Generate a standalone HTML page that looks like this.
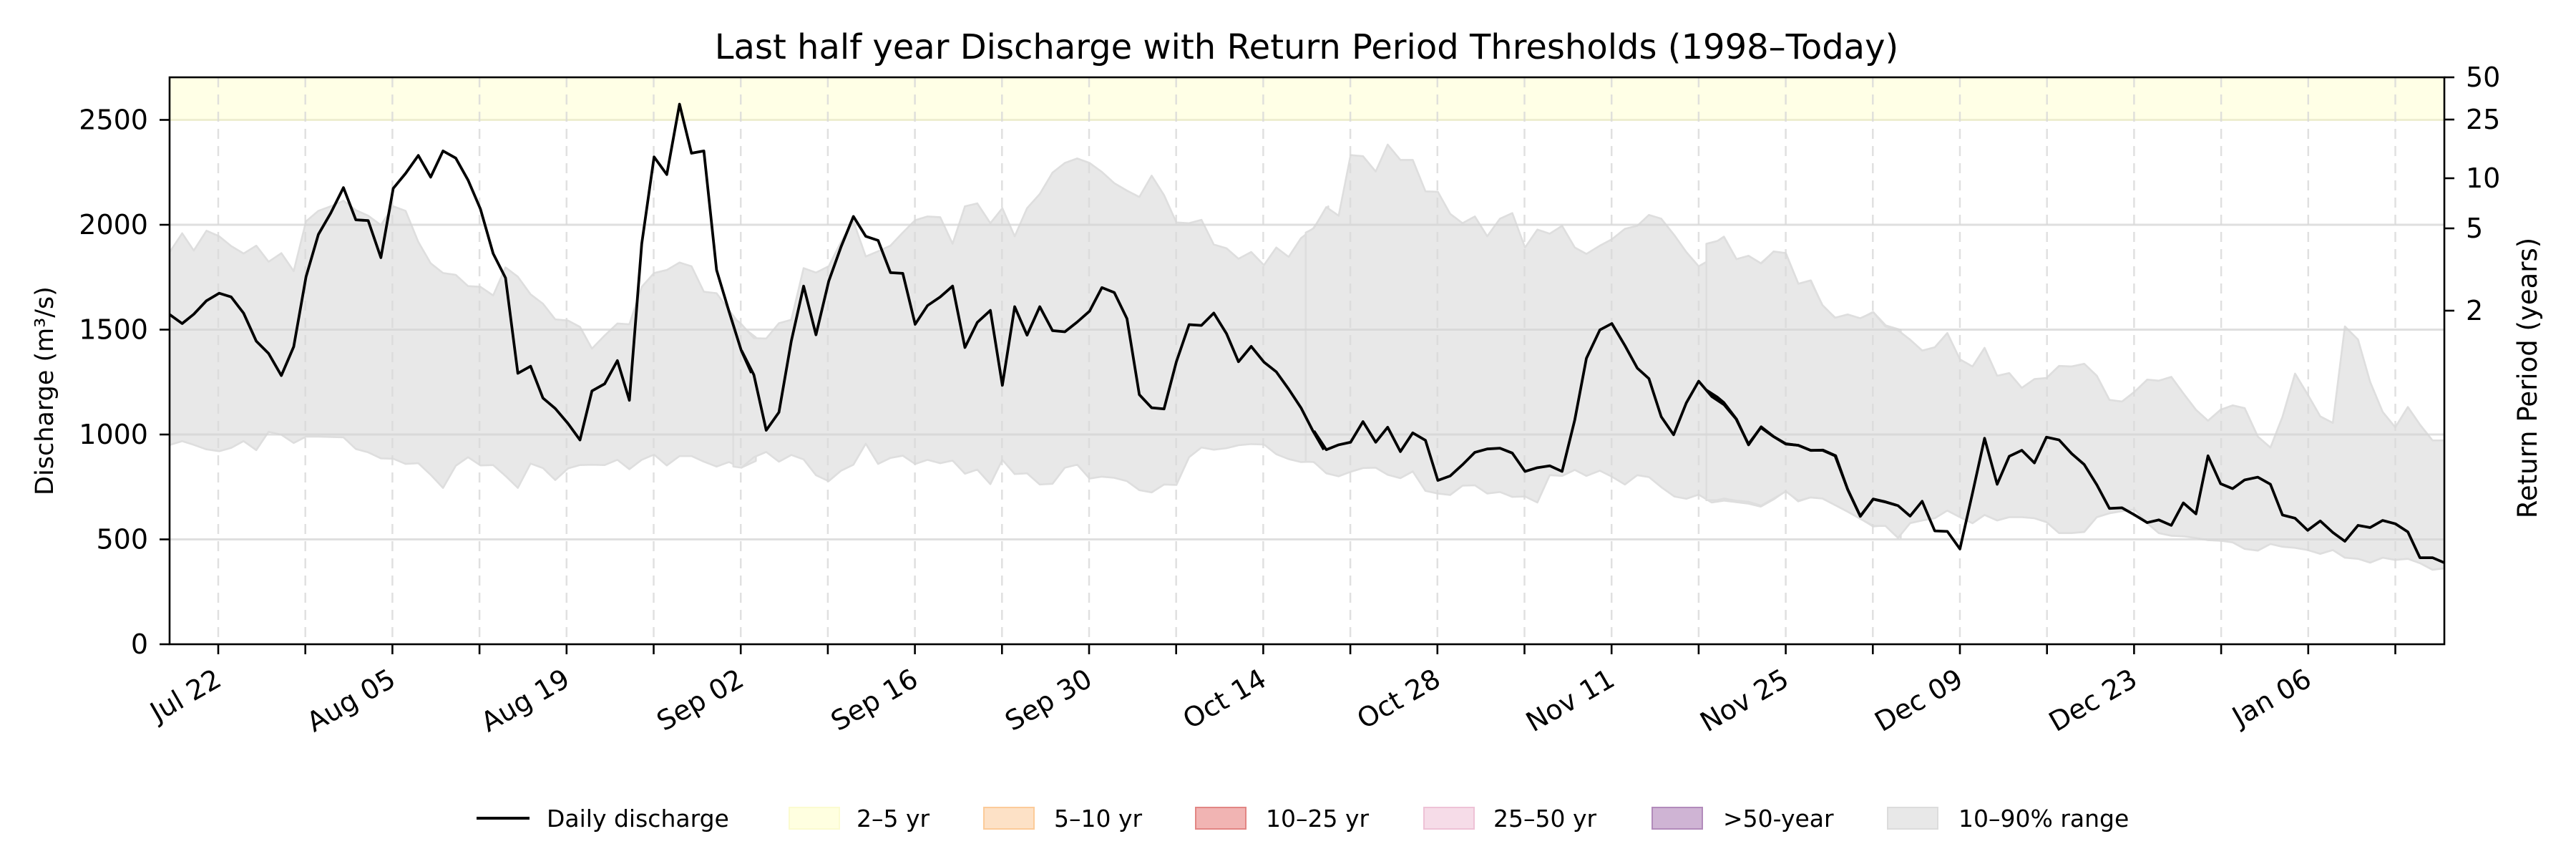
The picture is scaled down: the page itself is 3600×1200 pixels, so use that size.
<!DOCTYPE html>
<html><head><meta charset="utf-8"><style>
html,body{margin:0;padding:0;background:#fff}
svg{display:block}
text{font-family:"DejaVu Sans","Liberation Sans",sans-serif;fill:#000}
</style></head><body>
<svg width="3600" height="1200" viewBox="0 0 3600 1200" xmlns="http://www.w3.org/2000/svg">
<rect width="3600" height="1200" fill="#fff"/>
<defs><clipPath id="ax"><rect x="237" y="108" width="3179" height="792"/></clipPath></defs>
<g clip-path="url(#ax)">
<rect x="237" y="108" width="3179" height="60" fill="#ffffe6"/>
<line x1="237" y1="167.5" x2="3416" y2="167.5" stroke="#eeeed0" stroke-width="3"/>
<g fill="#e8e8e8" stroke="#dedede" stroke-width="5" stroke-linejoin="round">
<g transform="translate(230,100) scale(0.523)">
<polygon points="0,480 15,480 47,432 78,478 112,425 146,440 178,466 211,486 245,465 278,508 312,485 345,533 378,400 411,372 444,360 478,345 511,370 544,385 578,410 611,360 644,372 678,455 711,512 744,538 778,543 811,573 844,575 878,598 911,523 944,548 978,595 1011,620 1044,662 1078,665 1110,682 1142,740 1176,705 1210,673 1242,675 1275,575 1308,538 1342,530 1376,510 1408,520 1441,588 1475,592 1508,637 1541,680 1580,710 1580,1040 1541,1058 1508,1043 1475,1055 1441,1042 1408,1027 1376,1027 1342,1052 1308,1023 1275,1037 1242,1062 1210,1037 1176,1051 1142,1050 1110,1051 1078,1060 1044,1091 1011,1059 978,1047 944,1112 911,1080 878,1051 844,1052 811,1030 778,1053 744,1112 711,1077 678,1046 644,1048 611,1034 578,1033 544,1017 511,1008 478,977 444,976 411,975 378,975 345,992 312,970 278,962 245,1011 211,987 178,1005 146,1014 112,1009 78,997 47,987 15,997 0,1000"/>
</g>
<g transform="translate(1030,100) scale(0.523)">
<polygon points="-10,660 0,665 12,675 45,712 78,713 112,672 145,663 178,525 211,537 245,520 278,455 311,400 344,494 377,480 410,465 443,430 476,397 509,387 543,389 576,460 609,360 642,352 677,405 709,365 742,440 775,365 809,327 843,270 876,244 909,232 942,244 975,268 1008,298 1042,318 1075,335 1108,278 1141,330 1174,403 1208,405 1241,396 1274,462 1308,472 1340,500 1374,482 1408,517 1441,470 1474,495 1507,445 1539,420 1580,360 1580,1070 1539,1042 1507,1043 1474,1035 1441,1022 1408,996 1374,995 1340,998 1308,1006 1274,1010 1241,1004 1208,1030 1174,1104 1141,1103 1108,1124 1075,1118 1042,1094 1008,1085 975,1082 942,1087 909,1050 876,1058 843,1101 809,1103 775,1073 742,1075 709,1037 677,1102 642,1063 609,1074 576,1039 543,1046 509,1037 476,1048 443,1026 410,1032 377,1048 344,994 311,1050 278,1066 245,1094 211,1078 178,1036 145,1024 112,1042 78,1016 45,1030 12,1058 -10,1055"/>
</g>
<g transform="translate(1830,100) scale(0.523)">
<polygon points="-10,430 0,425 12,418 45,362 78,385 110,223 143,226 177,267 209,195 243,236 276,236 310,320 343,321 376,380 409,405 442,387 475,440 509,393 542,378 576,470 609,422 642,433 675,412 709,470 740,487 776,465 808,448 843,420 876,412 907,383 940,393 975,437 1007,482 1040,520 1075,500 1108,443 1140,502 1173,492 1206,512 1240,482 1273,486 1306,568 1340,558 1372,628 1406,658 1438,649 1472,660 1506,642 1540,678 1580,690 1580,1245 1540,1212 1506,1215 1472,1194 1438,1172 1406,1157 1372,1138 1340,1137 1306,1148 1273,1120 1240,1143 1206,1162 1173,1154 1140,1150 1108,1146 1075,1151 1040,1130 1007,1141 975,1135 940,1110 907,1083 876,1078 843,1103 808,1082 776,1066 740,1080 709,1064 675,1080 642,1078 609,1151 576,1135 542,1136 509,1123 475,1127 442,1105 409,1106 376,1131 343,1127 310,1120 276,1068 243,1086 209,1077 177,1058 143,1059 110,1069 78,1081 45,1073 12,1043 -10,1042"/>
</g>
<g transform="translate(2400,0) scale(0.7653)" stroke-width="3.5">
<polygon points="-20,445 0,440 12,432 35,473 57,467 80,481 103,459 125,462 148,518 170,512 192,557 215,580 238,574 261,581 285,570 307,596 330,603 352,620 374,640 397,634 420,608 443,656 466,669 488,635 511,686 533,681 556,708 579,692 601,690 624,668 647,669 670,664 693,686 716,730 739,733 762,715 785,693 806,695 829,688 851,718 874,748 896,768 919,748 941,740 963,745 987,797 1010,817 1032,761 1055,682 1078,720 1101,760 1124,772 1146,596 1170,620 1192,697 1215,752 1238,780 1261,743 1283,775 1306,804 1340,804 1340,1036 1306,1040 1283,1028 1261,1020 1238,1022 1215,1018 1192,1027 1170,1020 1146,1018 1124,1004 1101,1011 1078,1004 1055,1000 1032,998 1010,993 987,1005 963,1002 941,990 919,987 896,986 874,982 851,979 829,978 806,973 785,955 762,930 739,933 716,937 693,944 670,971 647,973 624,973 601,953 579,946 556,944 533,944 511,950 488,940 466,955 443,944 420,932 397,946 374,950 352,955 330,982 307,960 285,960 261,947 238,934 215,922 192,910 170,908 148,914 125,897 103,910 80,923 57,916 35,914 12,910 0,913 -20,913"/>
</g>
</g>
<g stroke="#d4d4d4" stroke-opacity="0.75" stroke-width="3">
<line x1="237" y1="753.5" x2="3416" y2="753.5"/>
<line x1="237" y1="607" x2="3416" y2="607"/>
<line x1="237" y1="460.5" x2="3416" y2="460.5"/>
<line x1="237" y1="314" x2="3416" y2="314"/>
</g>
<g stroke="#d8d8d8" stroke-opacity="0.8" stroke-width="2.5" stroke-dasharray="14,10">
<line x1="305" y1="108" x2="305" y2="900"/><line x1="426.7" y1="108" x2="426.7" y2="900"/><line x1="548.4" y1="108" x2="548.4" y2="900"/><line x1="670.1" y1="108" x2="670.1" y2="900"/><line x1="791.8" y1="108" x2="791.8" y2="900"/><line x1="913.5" y1="108" x2="913.5" y2="900"/><line x1="1035.2" y1="108" x2="1035.2" y2="900"/><line x1="1156.9" y1="108" x2="1156.9" y2="900"/><line x1="1278.6" y1="108" x2="1278.6" y2="900"/><line x1="1400.3" y1="108" x2="1400.3" y2="900"/><line x1="1522" y1="108" x2="1522" y2="900"/><line x1="1643.7" y1="108" x2="1643.7" y2="900"/><line x1="1765.4" y1="108" x2="1765.4" y2="900"/><line x1="1887.1" y1="108" x2="1887.1" y2="900"/><line x1="2008.8" y1="108" x2="2008.8" y2="900"/><line x1="2130.5" y1="108" x2="2130.5" y2="900"/><line x1="2252.2" y1="108" x2="2252.2" y2="900"/><line x1="2373.9" y1="108" x2="2373.9" y2="900"/><line x1="2495.6" y1="108" x2="2495.6" y2="900"/><line x1="2617.3" y1="108" x2="2617.3" y2="900"/><line x1="2739" y1="108" x2="2739" y2="900"/><line x1="2860.7" y1="108" x2="2860.7" y2="900"/><line x1="2982.4" y1="108" x2="2982.4" y2="900"/><line x1="3104.1" y1="108" x2="3104.1" y2="900"/><line x1="3225.8" y1="108" x2="3225.8" y2="900"/><line x1="3347.5" y1="108" x2="3347.5" y2="900"/>
</g>
<g fill="none" stroke="#000" stroke-width="7.2" stroke-linejoin="round">
<polyline transform="translate(230,100) scale(0.523)" points="0,640 15,650 47,673 78,648 112,612 146,592 178,602 211,645 245,720 278,753 312,812 345,735 378,548 411,435 444,378 478,310 511,396 544,398 578,497 611,312 644,272 678,224 711,282 744,212 778,231 811,290 844,367 878,486 911,551 944,806 978,787 1011,872 1044,900 1078,940 1110,984 1142,853 1176,834 1210,772 1242,878 1275,460 1308,228 1342,275 1376,87 1408,218 1441,212 1475,530 1508,640 1541,745 1568,805"/>
<polyline transform="translate(1030,100) scale(0.523)" points="12,745 45,810 78,958 112,910 145,720 178,573 211,703 245,560 278,468 311,387 344,440 377,451 410,537 443,539 476,675 509,625 543,602 576,573 609,737 642,670 677,638 709,838 742,628 775,704 809,628 843,692 876,695 909,669 942,640 975,577 1008,590 1042,660 1075,863 1108,898 1141,901 1174,775 1208,676 1241,678 1274,645 1308,700 1340,775 1374,734 1408,776 1441,802 1474,848 1507,898 1539,960 1568,1010"/>
<polyline transform="translate(1830,100) scale(0.523)" points="12,960 45,1010 78,997 110,990 143,935 177,990 209,950 243,1015 276,965 310,985 343,1092 376,1080 409,1050 442,1017 475,1008 509,1006 542,1019 576,1068 609,1058 642,1053 675,1068 709,930 740,766 776,690 808,673 843,732 876,792 907,820 940,922 973,970 1007,885 1040,827 1075,868 1108,890 1140,928 1173,995 1206,951 1240,975 1273,995 1306,998 1340,1012 1372,1011 1406,1026 1438,1116 1472,1188 1506,1142 1540,1150 1568,1158"/>
<polyline transform="translate(2400,0) scale(0.7653)" stroke-width="4.9" points="-20,712 0,725 12,735 35,765 57,812 80,779 103,797 125,810 148,813 170,822 192,822 215,832 238,893 261,942 285,911 307,916 330,923 352,942 374,915 397,969 420,970 443,1002 466,900 488,800 511,884 533,833 556,822 579,845 601,798 624,803 647,828 670,848 693,885 716,928 739,927 762,940 785,954 806,949 829,959 851,918 874,938 896,832 919,883 941,892 963,876 987,871 1010,884 1032,940 1055,946 1078,968 1101,951 1124,972 1146,988 1170,959 1192,963 1215,950 1238,956 1261,971 1283,1018 1306,1018 1327,1027"/>
</g>
</g>
<rect x="237" y="108" width="3179" height="792" fill="none" stroke="#000" stroke-width="2.6"/>
<g stroke="#000" stroke-width="2.6">
<line x1="223" y1="900" x2="237" y2="900"/><line x1="223" y1="753.5" x2="237" y2="753.5"/><line x1="223" y1="607" x2="237" y2="607"/><line x1="223" y1="460.5" x2="237" y2="460.5"/><line x1="223" y1="314" x2="237" y2="314"/><line x1="223" y1="167.5" x2="237" y2="167.5"/>
<line x1="3416" y1="108" x2="3430" y2="108"/><line x1="3416" y1="167" x2="3430" y2="167"/><line x1="3416" y1="249" x2="3430" y2="249"/><line x1="3416" y1="319" x2="3430" y2="319"/><line x1="3416" y1="434" x2="3430" y2="434"/>
<g transform="translate(0,900)"><line x1="305" y1="0" x2="305" y2="14"/><line x1="426.7" y1="0" x2="426.7" y2="14"/><line x1="548.4" y1="0" x2="548.4" y2="14"/><line x1="670.1" y1="0" x2="670.1" y2="14"/><line x1="791.8" y1="0" x2="791.8" y2="14"/><line x1="913.5" y1="0" x2="913.5" y2="14"/><line x1="1035.2" y1="0" x2="1035.2" y2="14"/><line x1="1156.9" y1="0" x2="1156.9" y2="14"/><line x1="1278.6" y1="0" x2="1278.6" y2="14"/><line x1="1400.3" y1="0" x2="1400.3" y2="14"/><line x1="1522" y1="0" x2="1522" y2="14"/><line x1="1643.7" y1="0" x2="1643.7" y2="14"/><line x1="1765.4" y1="0" x2="1765.4" y2="14"/><line x1="1887.1" y1="0" x2="1887.1" y2="14"/><line x1="2008.8" y1="0" x2="2008.8" y2="14"/><line x1="2130.5" y1="0" x2="2130.5" y2="14"/><line x1="2252.2" y1="0" x2="2252.2" y2="14"/><line x1="2373.9" y1="0" x2="2373.9" y2="14"/><line x1="2495.6" y1="0" x2="2495.6" y2="14"/><line x1="2617.3" y1="0" x2="2617.3" y2="14"/><line x1="2739" y1="0" x2="2739" y2="14"/><line x1="2860.7" y1="0" x2="2860.7" y2="14"/><line x1="2982.4" y1="0" x2="2982.4" y2="14"/><line x1="3104.1" y1="0" x2="3104.1" y2="14"/><line x1="3225.8" y1="0" x2="3225.8" y2="14"/><line x1="3347.5" y1="0" x2="3347.5" y2="14"/></g>
</g>
<g font-size="38" text-anchor="end">
<text x="207" y="913">0</text><text x="207" y="766.5">500</text><text x="207" y="620">1000</text><text x="207" y="473.5">1500</text><text x="207" y="327">2000</text><text x="207" y="180.5">2500</text>
</g>
<g font-size="38">
<text x="3446" y="121">50</text><text x="3446" y="180">25</text><text x="3446" y="262">10</text><text x="3446" y="332">5</text><text x="3446" y="447">2</text>
</g>
<text font-size="35" text-anchor="middle" transform="translate(74,546) rotate(-90)">Discharge (m³/s)</text>
<text font-size="37" text-anchor="middle" transform="translate(3545,528) rotate(-90)">Return Period (years)</text>
<text font-size="48" text-anchor="middle" x="1826" y="82">Last half year Discharge with Return Period Thresholds (1998–Today)</text>
<g font-size="38" text-anchor="end">
<text transform="translate(312,956) rotate(-30)">Jul 22</text>
<text transform="translate(555.4,956) rotate(-30)">Aug 05</text>
<text transform="translate(798.8,956) rotate(-30)">Aug 19</text>
<text transform="translate(1042.2,956) rotate(-30)">Sep 02</text>
<text transform="translate(1285.6,956) rotate(-30)">Sep 16</text>
<text transform="translate(1529,956) rotate(-30)">Sep 30</text>
<text transform="translate(1772.4,956) rotate(-30)">Oct 14</text>
<text transform="translate(2015.8,956) rotate(-30)">Oct 28</text>
<text transform="translate(2259.2,956) rotate(-30)">Nov 11</text>
<text transform="translate(2502.6,956) rotate(-30)">Nov 25</text>
<text transform="translate(2746,956) rotate(-30)">Dec 09</text>
<text transform="translate(2989.4,956) rotate(-30)">Dec 23</text>
<text transform="translate(3232.8,956) rotate(-30)">Jan 06</text>
</g>
<g font-size="33">
<line x1="666" y1="1143" x2="740" y2="1143" stroke="#000" stroke-width="4"/>
<text x="764" y="1155">Daily discharge</text>
<rect x="1103" y="1128" width="70" height="30" fill="#ffffe0" stroke="#fbfbd0" stroke-width="2"/>
<text x="1197" y="1155">2–5 yr</text>
<rect x="1375" y="1128" width="70" height="30" fill="#fde1c6" stroke="#fccb99" stroke-width="2"/>
<text x="1473" y="1155">5–10 yr</text>
<rect x="1671" y="1128" width="70" height="30" fill="#f1b4b3" stroke="#e28684" stroke-width="2"/>
<text x="1769" y="1155">10–25 yr</text>
<rect x="1990" y="1128" width="70" height="30" fill="#f6dce8" stroke="#eec2d6" stroke-width="2"/>
<text x="2087" y="1155">25–50 yr</text>
<rect x="2309" y="1128" width="70" height="30" fill="#cfb4d4" stroke="#b28bbb" stroke-width="2"/>
<text x="2408" y="1155">&gt;50-year</text>
<rect x="2638" y="1128" width="70" height="30" fill="#e8e8e8" stroke="#dcdcdc" stroke-width="2"/>
<text x="2737" y="1155">10–90% range</text>
</g>
</svg>
</body></html>
